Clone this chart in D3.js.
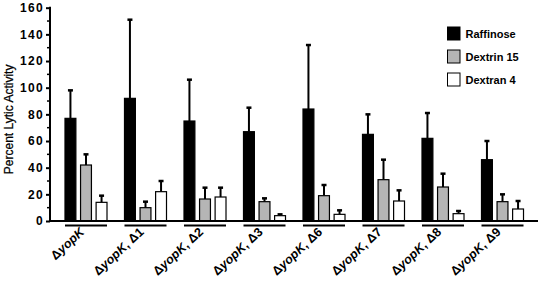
<!DOCTYPE html>
<html>
<head>
<meta charset="utf-8">
<script src="https://cdn.jsdelivr.net/npm/d3@7"></script>
<style>
  body { margin: 0; background: #fff; }
  svg { display: block; font-family: "Liberation Sans", Arial, sans-serif; }
</style>
</head>
<body>
<div id="wrapper"></div>
<script>
// Dados
const strains = ["ΔyopK", "ΔyopK, Δ1", "ΔyopK, Δ2", "ΔyopK, Δ3", "ΔyopK, Δ6", "ΔyopK, Δ7", "ΔyopK, Δ8", "ΔyopK, Δ9"];
const series = ["Raffinose", "Dextrin 15", "Dextran 4"];
const raffinose = [77, 92, 75, 67, 84, 65, 62, 46];
const raffinoseErr = [21, 59, 31, 18, 48, 15, 19, 14];
const dextrin15 = [42, 10, 16.5, 14.5, 19, 31, 25.5, 14.5];
const dextrin15Err = [8, 4.5, 8.5, 2.5, 8, 15, 10, 5.5];
const dextran4 = [14, 22, 18, 4, 5, 15, 5.5, 9];
const dextran4Err = [5, 8, 7, 1, 3, 8, 2, 6];
const yTicks = [0, 20, 40, 60, 80, 100, 120, 140, 160];

function draw() {
  const width = 540, height = 286;
  const values = [raffinose, dextrin15, dextran4];
  const errors = [raffinoseErr, dextrin15Err, dextran4Err];
  const fills = ["#000", "#b5b5b5", "#fff"];

  const data = strains.map((s, i) => ({
    strain: s,
    bars: series.map((name, j) => ({ name, value: values[j][i], err: errors[j][i], fill: fills[j] }))
  }));

  const svg = d3.select("#wrapper").append("svg")
    .attr("width", width).attr("height", height);

  // Escalas
  const x0 = d3.scaleBand().domain(strains).range([47.5, 541]).padding(0.294);
  const x1 = d3.scaleBand().domain(series).range([0, x0.bandwidth()]).paddingInner(0.3).paddingOuter(0);
  const y = d3.scaleLinear().domain([0, 160]).range([221, 7.7]);

  // Eixo Y
  const yAxis = svg.append("g").attr("transform", "translate(50,0)")
    .call(d3.axisLeft(y).tickValues(yTicks).tickSize(4).tickPadding(2));
  yAxis.select(".domain").remove();
  yAxis.selectAll("line").attr("stroke", "#000").attr("stroke-width", 2);
  yAxis.selectAll("text")
    .attr("font-size", 12).attr("font-weight", "bold").attr("letter-spacing", 1.3)
    .attr("font-family", "'Liberation Sans', Arial, sans-serif").attr("fill", "#000");
  // ticks menores
  svg.append("g").selectAll("line")
    .data(d3.range(10, 160, 20))
    .join("line")
    .attr("x1", 47).attr("x2", 50)
    .attr("y1", d => y(d)).attr("y2", d => y(d))
    .attr("stroke", "#000").attr("stroke-width", 1.5);
  svg.append("line")
    .attr("x1", 50).attr("x2", 50).attr("y1", y(160) - 1).attr("y2", y(0) + 1)
    .attr("stroke", "#000").attr("stroke-width", 2);

  svg.append("text")
    .attr("transform", "translate(13," + ((y(0) + y(160)) / 2 + 5) + ") rotate(-90)")
    .attr("text-anchor", "middle")
    .attr("font-size", 12)
    .attr("stroke", "#000").attr("stroke-width", 0.25)
    .text("Percent Lytic Activity");

  // Barras
  const groups = svg.append("g").selectAll("g")
    .data(data)
    .join("g")
    .attr("transform", d => "translate(" + x0(d.strain) + ",0)");

  const bar = groups.selectAll("g.bar")
    .data(d => d.bars)
    .join("g")
    .attr("class", "bar");

  // barras de erro (só para cima)
  bar.append("line")
    .attr("x1", d => x1(d.name) + x1.bandwidth() / 2)
    .attr("x2", d => x1(d.name) + x1.bandwidth() / 2)
    .attr("y1", d => y(d.value))
    .attr("y2", d => y(d.value + d.err))
    .attr("stroke", "#000").attr("stroke-width", 2);
  bar.append("line")
    .attr("x1", d => x1(d.name) + x1.bandwidth() / 2 - 2.5)
    .attr("x2", d => x1(d.name) + x1.bandwidth() / 2 + 2.5)
    .attr("y1", d => y(d.value + d.err))
    .attr("y2", d => y(d.value + d.err))
    .attr("stroke", "#000").attr("stroke-width", 2.5);

  bar.append("rect")
    .attr("x", d => x1(d.name))
    .attr("width", x1.bandwidth())
    .attr("y", d => y(d.value))
    .attr("height", d => y(0) - y(d.value))
    .attr("fill", d => d.fill)
    .attr("stroke", "#000").attr("stroke-width", 1.2);

  // Linha de base
  svg.append("line")
    .attr("x1", 49).attr("x2", 538).attr("y1", y(0)).attr("y2", y(0))
    .attr("stroke", "#000").attr("stroke-width", 2);

  // Sublinhado de cada grupo
  groups.append("line")
    .attr("x1", 0).attr("x2", x0.bandwidth())
    .attr("y1", 225.5).attr("y2", 225.5)
    .attr("stroke", "#000").attr("stroke-width", 2);

  // Rótulos inclinados: texto sobre um caminho diagonal (textPath), sem transform
  const angle = 43 * Math.PI / 180;
  const defs = svg.append("defs");
  strains.forEach((s, i) => {
    const ex = x0(s) + x0.bandwidth() / 2 - 1;
    const ey = 233;
    const len = 120;
    const sx = ex - len * Math.cos(angle);
    const sy = ey + len * Math.sin(angle);
    defs.append("path")
      .attr("id", "lab" + i)
      .attr("d", "M" + sx + "," + sy + "L" + ex + "," + ey);
    const tp = svg.append("text")
      .attr("font-size", 12.5)
      .attr("font-weight", "bold")
      .append("textPath")
      .attr("href", "#lab" + i)
      .attr("startOffset", "100%")
      .attr("text-anchor", "end");
    tp.append("tspan").text("Δ");
    tp.append("tspan").attr("font-style", "italic").text("yopK");
    if (s.indexOf(", ") >= 0) tp.append("tspan").text(", " + s.split(", ")[1]);
  });

  // Legenda
  const legend = svg.append("g").selectAll("g")
    .data(series)
    .join("g")
    .attr("transform", (d, i) => "translate(447.5," + (27 + i * 23) + ")");
  legend.append("rect")
    .attr("width", 12.5).attr("height", 13)
    .attr("fill", (d, i) => fills[i])
    .attr("stroke", "#000").attr("stroke-width", 1);
  legend.append("text")
    .attr("x", 18).attr("y", 11)
    .attr("font-size", 11).attr("font-weight", "bold")
    .text(d => d);
}
draw();
</script>
</body>
</html>
